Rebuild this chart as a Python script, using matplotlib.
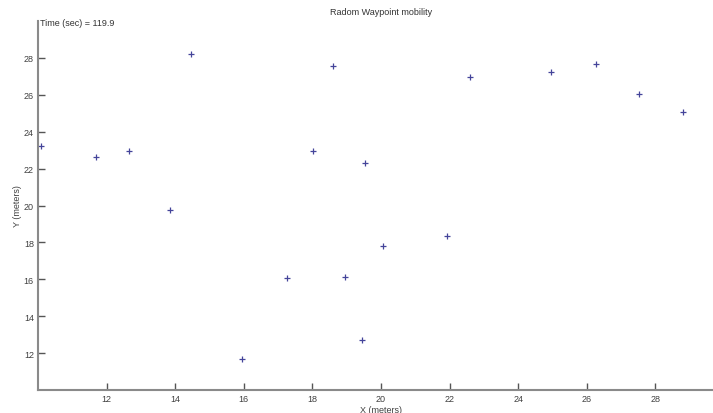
import matplotlib
matplotlib.use("Agg")
import matplotlib.pyplot as plt

plt.rcParams['font.family'] = ['Liberation Sans', 'DejaVu Sans']

x_m = [10.09, 11.70, 12.66, 13.85, 14.47, 15.95, 17.27, 18.03, 18.61, 18.96,
       19.44, 19.53, 20.05, 21.92, 22.59, 24.97, 26.27, 27.53, 28.81]
y_m = [23.22, 22.62, 22.97, 19.78, 28.19, 11.68, 16.05, 22.93, 27.54, 16.12,
       12.73, 22.28, 17.81, 18.35, 26.99, 27.23, 27.66, 26.05, 25.07]
x_ticks = [12, 14, 16, 18, 20, 22, 24, 26, 28]
y_ticks = [12, 14, 16, 18, 20, 22, 24, 26, 28]
title = "Radom Waypoint mobility"
time_label = "Time (sec) = 119.9"

W, H = 713, 414
fig = plt.figure(figsize=(W/100, H/100), dpi=100)
ax = fig.add_axes([38/W, 23/H, 686/W, 369/H])

ax.plot(x_m, y_m, linestyle='none', marker='+', color='#44449a',
        markersize=5, markeredgewidth=0.9)

ax.set_xlim(10, 30)
ax.set_ylim(10, 30)
ax.set_xticks(x_ticks)
ax.set_yticks(y_ticks)
for s in ['top', 'right']:
    ax.spines[s].set_visible(False)
for s in ['left', 'bottom']:
    ax.spines[s].set_color('#8a8a8a')
    ax.spines[s].set_linewidth(1.5)
ax.tick_params(direction='in', length=5, width=1, color='#555555',
               labelsize=6.5, labelcolor='#404040', pad=3)

ax.set_title(title, fontsize=6.5, color='#333333', pad=5)
ax.text(0.003, 0.995, time_label, transform=ax.transAxes, fontsize=6.5,
        color='#333333', va='center', ha='left')
ax.set_xlabel("X (meters)", fontsize=6.5, color='#404040', labelpad=1)
ax.set_ylabel("Y (meters)", fontsize=6.5, color='#404040', labelpad=1)

fig.savefig("out.png", dpi=100)
